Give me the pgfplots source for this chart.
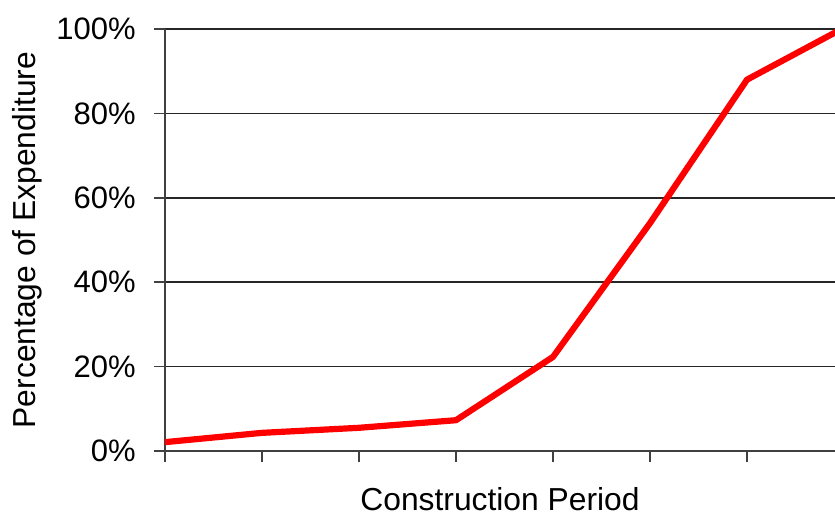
\documentclass[border=0pt]{standalone}
\usepackage{fontspec}
\setmainfont{Liberation Sans}
\usepackage{pgfplots}
\pgfplotsset{compat=1.18}

\definecolor{axisgray}{RGB}{64,64,64}

\begin{document}
\begin{tikzpicture}
\begin{axis}[
  at={(0,0)}, anchor=south west,
  scale only axis,
  width=335pt, height=211pt,
  xmin=0, xmax=6.907,
  ymin=0, ymax=100,
  axis lines=left,
  axis line style={axisgray, line width=0.8pt, -},
  xtick={0,1,2,3,4,5,6},
  xticklabels={},
  ytick={0,20,40,60,80,100},
  yticklabels={0\%,20\%,40\%,60\%,80\%,100\%},
  tick align=outside,
  major tick length=5.5pt,
  tick style={axisgray, line width=0.8pt},
  ymajorgrids,
  major grid style={black!85, line width=0.75pt},
  tick label style={font=\fontsize{15.5}{18}\selectfont, black},
  yticklabel style={inner sep=0pt, xshift=-9pt},
  label style={font=\fontsize{15.9}{18}\selectfont, black},
  xlabel={Construction Period},
  xlabel style={at={(axis description cs:0.5,0)}, anchor=base, inner sep=0pt, yshift=-29.5pt},
  ylabel={Percentage of Expenditure},
  ylabel style={at={(axis description cs:0,0.5)}, anchor=base, inner sep=0pt, yshift=64.5pt},
  clip=true,
]
\addplot[red, line width=3.1pt, line join=round] coordinates {
  (0,2.1) (1,4.3) (2,5.5) (3,7.3) (4,22.3) (5,54) (6,88) (7,100.3)
};
\end{axis}
\pgfresetboundingbox
\path[use as bounding box] (-82.5pt,-32pt) rectangle (335pt,225.5pt);
\end{tikzpicture}
\end{document}
